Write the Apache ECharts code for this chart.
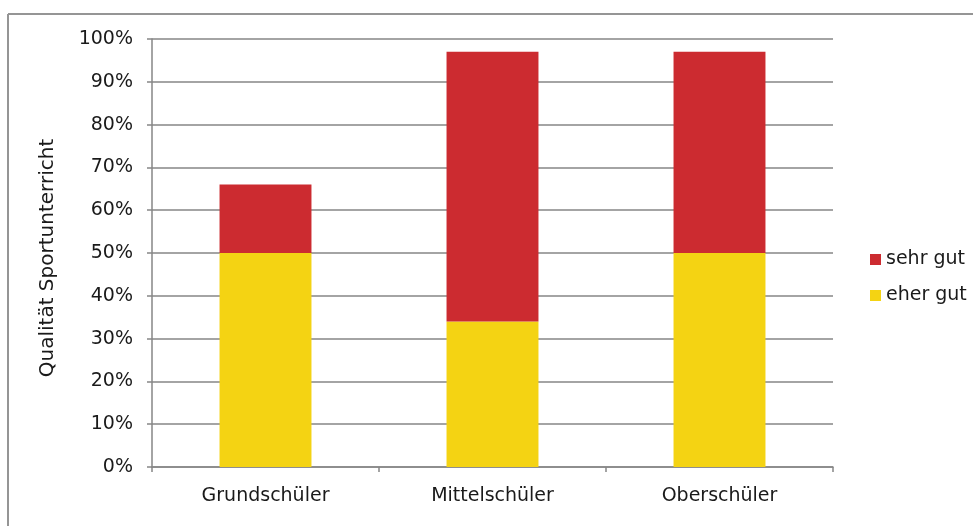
<!DOCTYPE html>
<html>
<head>
<meta charset="utf-8">
<script src="https://cdn.jsdelivr.net/npm/echarts@6/dist/echarts.min.js"></script>
<style>html,body{margin:0;padding:0;background:#fff}#c{width:973px;height:526px}</style>
</head>
<body>
<div id="c"></div>
<script>
var categories = ['Grundschüler', 'Mittelschüler', 'Oberschüler'];
var eherGut = [50, 34, 50];
var sehrGut = [16, 63, 47];
var yTicks = {min: 0, max: 100, interval: 10};

var chart = echarts.init(document.getElementById('c'), null, {renderer: 'canvas'});
var font = 'DejaVu Sans, Verdana, sans-serif';
var txt = '#1a1a1a';
chart.setOption({
  animation: false,
  backgroundColor: '#ffffff',
  textStyle: {fontFamily: font},
  grid: {left: 152, right: 140, top: 39, bottom: 59},
  graphic: [
    {type: 'line', shape: {x1: 8, y1: 14, x2: 973, y2: 14}, style: {stroke: '#959595', lineWidth: 2}},
    {type: 'line', shape: {x1: 8, y1: 14, x2: 8, y2: 526}, style: {stroke: '#959595', lineWidth: 2}}
  ],
  legend: {
    orient: 'vertical',
    left: 865,
    top: 245,
    itemWidth: 11,
    itemHeight: 11,
    itemGap: 17,
    icon: 'rect',
    data: ['sehr gut', 'eher gut'],
    textStyle: {fontFamily: font, fontSize: 19, color: txt}
  },
  xAxis: {
    type: 'category',
    data: categories,
    axisLine: {lineStyle: {color: '#868686', width: 1.5}},
    axisTick: {show: true, length: 5, lineStyle: {color: '#868686', width: 1.5}},
    axisLabel: {color: txt, fontSize: 19, fontFamily: font, margin: 20}
  },
  yAxis: {
    type: 'value',
    min: yTicks.min,
    max: yTicks.max,
    interval: yTicks.interval,
    name: 'Qualität Sportunterricht',
    nameLocation: 'middle',
    nameGap: 94,
    nameTextStyle: {color: txt, fontSize: 20, fontFamily: font, padding: [0, 10, 0, 0]},
    axisLine: {show: true, lineStyle: {color: '#868686', width: 1.5}},
    axisTick: {show: true, length: 5, lineStyle: {color: '#868686', width: 1.5}},
    axisLabel: {color: txt, fontSize: 19, fontFamily: font, margin: 19, formatter: '{value}%'},
    splitLine: {show: true, lineStyle: {color: '#868686', width: 1.5}}
  },
  series: [
    {name: 'eher gut', type: 'bar', stack: 'a', data: eherGut, barWidth: '40.5%', itemStyle: {color: '#F4D313'}},
    {name: 'sehr gut', type: 'bar', stack: 'a', data: sehrGut, barWidth: '40.5%', itemStyle: {color: '#CC2B30'}}
  ]
});
</script>
</body>
</html>
